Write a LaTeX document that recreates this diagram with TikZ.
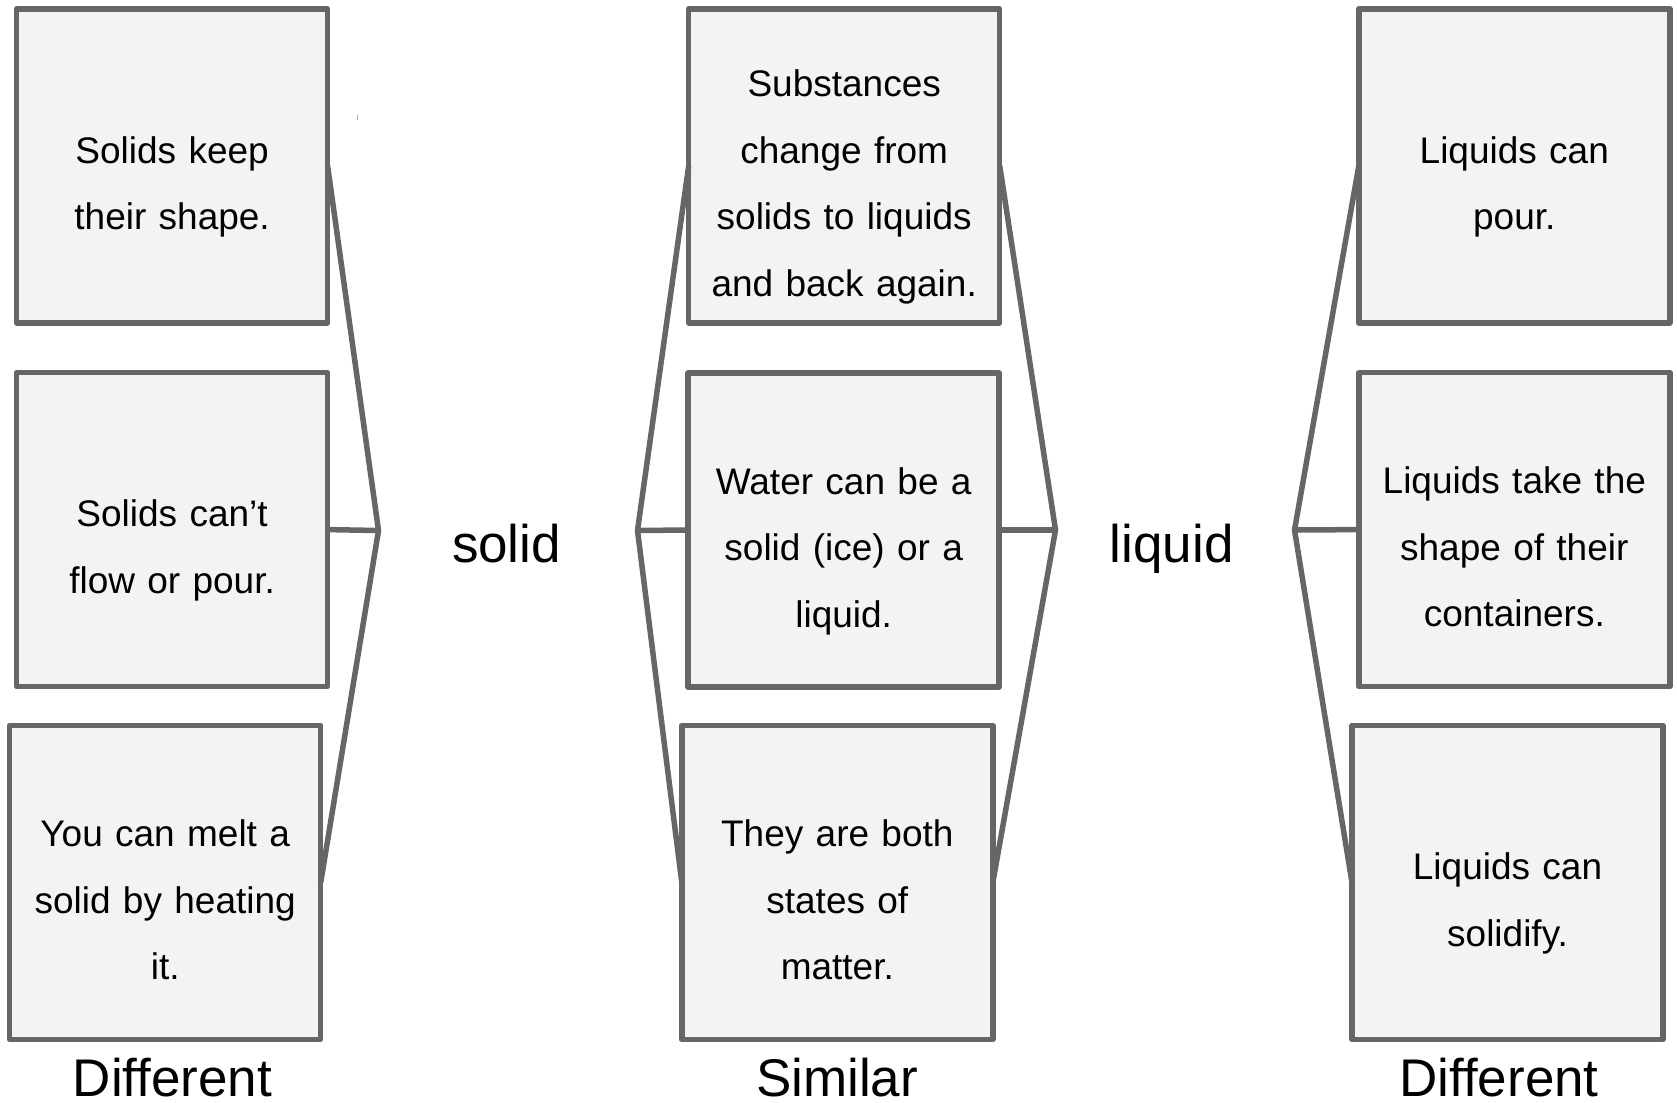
\documentclass[tikz,border=0pt]{standalone}
\usepackage{fontspec}
\setmainfont{Liberation Sans}
\definecolor{edgegray}{HTML}{666666}
\definecolor{boxfill}{HTML}{F3F3F3}
% one line of box text: fixed height 63.75pt, depth 2.75pt (leading sits above the text)
\newcommand\bl[1]{\rule[-2.75pt]{0pt}{66.5pt}\smash{#1}}
\newcommand\bxfont{\fontsize{37}{66.5}\selectfont}
\begin{document}
\begin{tikzpicture}[x=1pt,y=-1pt,
  box/.style={rectangle, draw=edgegray, fill=boxfill, line width=5.5pt,
    minimum width=311pt, minimum height=314pt, inner sep=0pt, outer sep=0pt,
    text width=300pt, align=center, line join=round, font=\bxfont},
  conn/.style={draw=edgegray, line width=5.5pt},
  lbl/.style={font=\fontsize{53}{60}\selectfont, anchor=base, inner sep=0pt}]
\useasboundingbox (0,0) rectangle (1677,1102);

% left column
\node[box] (b1) at (172.1,165.8) {\bl{Solids keep}\\\bl{their shape.}};
\node[box] (b2) at (172.1,529.6) {\bl{Solids can’t}\\\bl{flow or pour.}};
\node[box] (b3) at (165.2,882.5) {\bl{You can melt a}\\\bl{solid by heating}\\\bl{it.}};
% middle column
\node[box] (mA) at (844.2,165.8) {\bl{Substances}\\\bl{change from}\\\bl{solids to liquids}\\\bl{and back again.}};
\node[box] (mB) at (843.7,530) {\bl{Water can be a}\\\bl{solid (ice) or a}\\\bl{liquid.}};
\node[box] (mC) at (837.3,882.5) {\bl{They are both}\\\bl{states of}\\\bl{matter.}};
% right column
\node[box] (rX) at (1514.3,165.8) {\bl{Liquids can}\\\bl{pour.}};
\node[box] (rY) at (1514.3,529.6) {\bl{Liquids take the}\\\bl{shape of their}\\\bl{containers.}};
\node[box] (rZ) at (1507.5,882.5) {\bl{Liquids can}\\\bl{solidify.}};

% bracket apexes
\coordinate (bl) at (378.5,530.5);
\coordinate (bml) at (637.5,530.5);
\coordinate (bmr) at (1055.5,530);
\coordinate (br) at (1294.5,530);

\draw[conn] (b1.east) -- (bl) -- (b3.east);
\draw[conn] (b2.east) -- (bl);
\draw[conn] (mA.west) -- (bml) -- (mC.west);
\draw[conn] (mB.west) -- (bml);
\draw[conn] (mA.east) -- (bmr) -- (mC.east);
\draw[conn] (mB.east) -- (bmr);
\draw[conn] (rX.west) -- (br) -- (rZ.west);
\draw[conn] (rY.west) -- (br);

% labels
\node[lbl] (solid) at (506.5,562) {solid};
\node[lbl] (liquid) at (1171.7,562) {liquid};
\node[lbl] (diffL) at (172.5,1096.5) {Different};
\node[lbl] (sim) at (837,1096.5) {Similar};
\node[lbl] (diffR) at (1499,1096) {Different};

% stray mark
\draw[line width=1pt, edgegray!50] (357.3,115) -- (357.3,120.5);
\end{tikzpicture}
\end{document}
